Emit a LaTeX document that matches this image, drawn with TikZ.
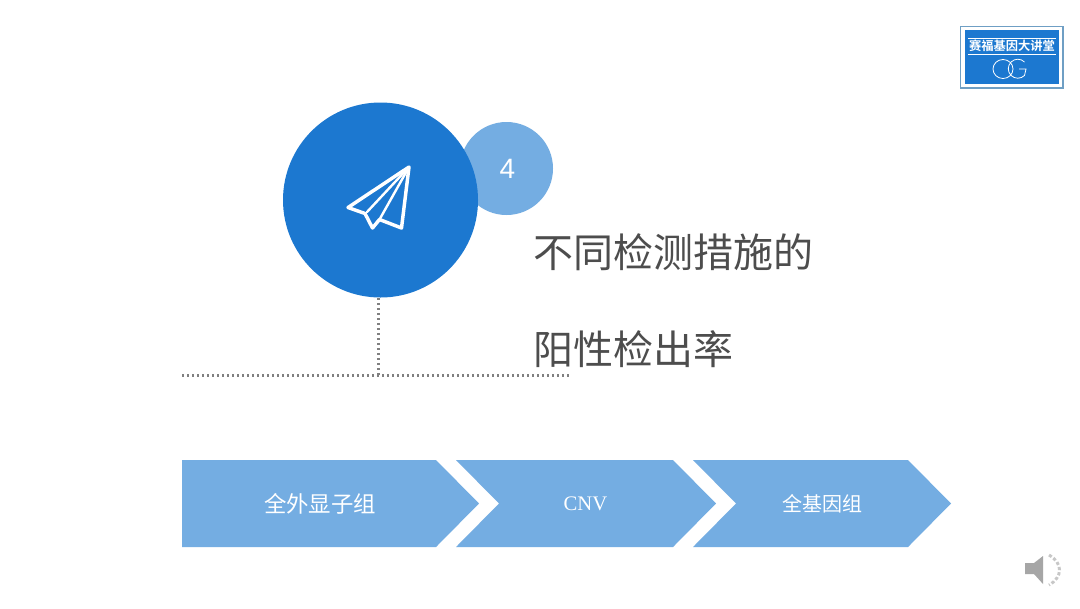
\documentclass[tikz,border=0pt]{standalone}
\usepackage{fontspec}
\setmainfont{Liberation Serif}
\newfontfamily\cjk{Noto Sans CJK SC}
\newfontfamily\cjkb{Noto Sans CJK SC Bold}
\newfontfamily\lsans{Liberation Sans}
\definecolor{deep}{HTML}{1C78D0}
\definecolor{soft}{HTML}{74ADE2}
\definecolor{ink}{HTML}{4D4D4D}
\definecolor{dotgray}{HTML}{808080}
\definecolor{logoedge}{HTML}{6F9FC4}
\tikzset{
  arrowbox/.style={fill=soft,draw=none},
  arrowlabel/.style={text=white,font=\cjk\fontsize{16.8pt}{20pt}\selectfont,anchor=center,inner sep=0pt},
  titletext/.style={text=ink,font=\cjk\fontsize{30pt}{36pt}\selectfont,anchor=west,inner sep=0pt},
  dotline/.style={draw=dotgray,line width=1.8pt,dash pattern=on 1.8pt off 1.95pt},
  plane/.style={draw=white,line width=2.6pt,line join=round,line cap=round}
}
\begin{document}
\begin{tikzpicture}[x=0.75pt,y=-0.75pt]
\useasboundingbox (0,0) rectangle (1080,608);
\fill[white] (0,0) rectangle (1080,608);
% dotted connector
\coordinate (hl) at (182,375.5);
\coordinate (hr) at (569,375.5);
\coordinate (junction) at (378.5,375.5);
\node[circle,fill=soft,minimum size=93*0.75pt,inner sep=0pt] (small) at (506.5,168.5) {};
\node[circle,fill=deep,minimum size=195*0.75pt,inner sep=0pt] (big) at (380.5,200) {};
\draw[dotline] (hl) -- (hr);
\draw[dotline] (378.5,298) -- (junction);
\node[text=white,font=\lsans\fontsize{21pt}{25pt}\selectfont,inner sep=0pt] (four) at (507.5,169) {4};
% paper plane
\draw[plane] (409,167) -- (348,207.5) -- (365,213.5) -- (372.5,228) -- (379.5,219.5) -- (401.5,228) -- cycle;
\draw[plane,line width=1.8pt] (409,167) -- (367,212);
\draw[plane,line width=1.8pt] (409,167) -- (379.5,219.5);
% title
\node[titletext] (t1) at (533,252) {不同检测措施的};
\node[titletext] (t2) at (533,349) {阳性检出率};
% chevrons
\fill[arrowbox] (182,460) -- (436,460) -- (479,503.5) -- (436,547) -- (182,547) -- cycle;
\fill[arrowbox] (456,460) -- (673,460) -- (716,503.5) -- (673,547) -- (456,547) -- (499,503.5) -- cycle;
\fill[arrowbox] (693,460) -- (908,460) -- (951,503.5) -- (908,547) -- (693,547) -- (736,503.5) -- cycle;
\node[arrowlabel] (a1) at (320,503.5) {全外显子组};
\node[arrowlabel,font=\fontsize{15.5pt}{18pt}\selectfont] (a2) at (585.5,503.5) {CNV};
\node[arrowlabel,font=\cjk\fontsize{15pt}{18pt}\selectfont] (a3) at (822,503.5) {全基因组};
% logo
\draw[draw=logoedge,line width=1pt] (960.5,26.5) rectangle (1063,88);
\fill[deep] (964.5,30) rectangle (1059,84);
\draw[white,line width=0.5pt] (968,38) -- (1056,38) (968,54.5) -- (1056,54.5);
\node[text=white,font=\cjkb\fontsize{9.2pt}{11pt}\selectfont,inner sep=0pt] (logo) at (1012,46) {赛福基因大讲堂};
\draw[white,line width=0.6pt] (1003,69) ellipse (10*0.75pt and 9.5*0.75pt);
\draw[white,line width=0.6pt] (1024.5,62) arc (45:315:9.5*0.75pt) -- (1026,69) -- (1019,69);
% speaker
\fill[black!35] (1025,563) -- (1034,563) -- (1043,556) -- (1043,584) -- (1034,574) -- (1025,574) -- cycle;
\draw[black!22,line width=2.2pt,dash pattern=on 2.4pt off 1.6pt] (1049,555) .. controls (1063,563) and (1063,577) .. (1049,585);
\end{tikzpicture}
\end{document}
